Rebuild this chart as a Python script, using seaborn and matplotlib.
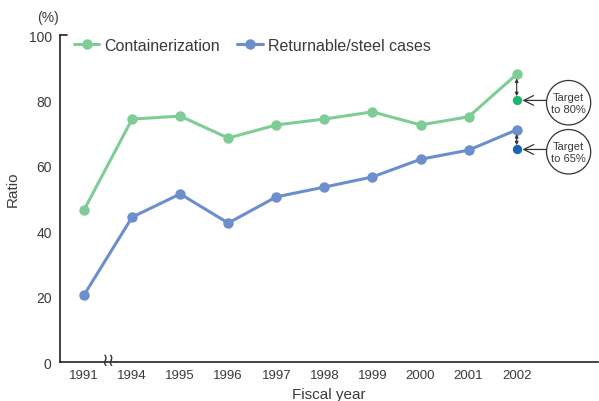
import pandas as pd
import matplotlib.pyplot as plt
import seaborn as sns
from matplotlib.patches import Ellipse

# Data
years = ['1991', '1994', '1995', '1996', '1997', '1998', '1999', '2000', '2001', '2002']
containerization = [46.5, 74.3, 75.2, 68.5, 72.5, 74.3, 76.5, 72.5, 75.0, 88.0]
returnable = [20.5, 44.3, 51.4, 42.5, 50.5, 53.5, 56.6, 62.0, 64.8, 71.0]
target_cont = 80
target_ret = 65

green = '#80cc96'
blue = '#6c8ecc'
green_dark = '#1db56b'
blue_dark = '#1565b0'
text_color = '#3a3a3a'
line_color = '#333333'

sns.set_style('white')
plt.rcParams['font.family'] = ['Liberation Sans', 'DejaVu Sans']

pos = list(range(len(years)))
df = pd.DataFrame({
    'pos': pos * 2,
    'value': containerization + returnable,
    'series': ['Containerization'] * len(years) + ['Returnable/steel cases'] * len(years),
})

fig = plt.figure(figsize=(5.99, 4.02), dpi=100)
ax = fig.add_axes([0.1002, 0.097, 0.898, 0.8134])

sns.lineplot(data=df, x='pos', y='value', hue='series',
             palette=[green, blue], marker='o', markersize=7.5,
             markeredgewidth=0, linewidth=2.2, ax=ax)

# target points
last = pos[-1]
ax.scatter([last], [target_cont], color=green_dark, s=45, zorder=5, linewidths=0)
ax.scatter([last], [target_ret], color=blue_dark, s=45, zorder=5, linewidths=0)

# double arrows between actual and target
for top, bot in [(containerization[-1], target_cont), (returnable[-1], target_ret)]:
    ax.annotate('', xy=(last, bot + 1.3), xytext=(last, top - 1.3),
                arrowprops=dict(arrowstyle='<|-|>', color=line_color, lw=0.8,
                                mutation_scale=5, shrinkA=0, shrinkB=0))

# target callouts
for val, label in [(target_cont, 'Target\nto 80%'), (target_ret, 'Target\nto 65%')]:
    cx, cy = last + 1.08, val - 0.7
    ax.add_patch(Ellipse((cx, cy), 0.92, 13.6, fill=False,
                         edgecolor=line_color, lw=0.9, clip_on=False))
    ax.text(cx, cy, label, ha='center', va='center',
            fontsize=8, color=text_color, linespacing=1.3)
    ax.annotate('', xy=(last + 0.12, val), xytext=(cx - 0.46, val),
                arrowprops=dict(arrowstyle='->,head_length=0.7,head_width=0.35',
                                color=line_color, lw=0.9, shrinkA=0, shrinkB=0,
                                mutation_scale=10))

ax.set_xlim(-0.5, 10.69)
ax.set_ylim(0, 100)
ax.set_xticks(pos)
ax.set_xticklabels(years)
ax.set_yticks([0, 20, 40, 60, 80, 100])
ax.tick_params(axis='x', direction='in', length=7, width=1, color='#222222',
               labelsize=9.5, labelcolor=text_color, pad=5)
ax.tick_params(axis='y', length=0, labelsize=10, labelcolor=text_color, pad=6)
ax.plot([-0.5, -0.35], [100, 100], color='#222222', lw=1.2, clip_on=False)

for s in ['top', 'right']:
    ax.spines[s].set_visible(False)
for s in ['left', 'bottom']:
    ax.spines[s].set_color('#222222')
    ax.spines[s].set_linewidth(1.2)

# axis break symbol
ax.text(0.5, 0.6, '\u2240\u2240', ha='center', va='center', fontsize=13,
        color=line_color, family='DejaVu Sans')

ax.set_xlabel('Fiscal year', fontsize=11, color=text_color, labelpad=4)
ax.set_ylabel('Ratio', fontsize=11, color=text_color)
ax.yaxis.set_label_coords(-0.074, 0.53)
fig.text(0.08, 0.955, '(%)', fontsize=10, color=text_color, ha='center', va='center')

leg = ax.legend(loc='upper left', ncol=2, frameon=False, fontsize=11.5,
                bbox_to_anchor=(0.008, 1.02), handlelength=1.6, columnspacing=1.1,
                handletextpad=0.3, borderaxespad=0.2)
for t in leg.get_texts():
    t.set_color(text_color)

fig.savefig('out.png', dpi=100)
